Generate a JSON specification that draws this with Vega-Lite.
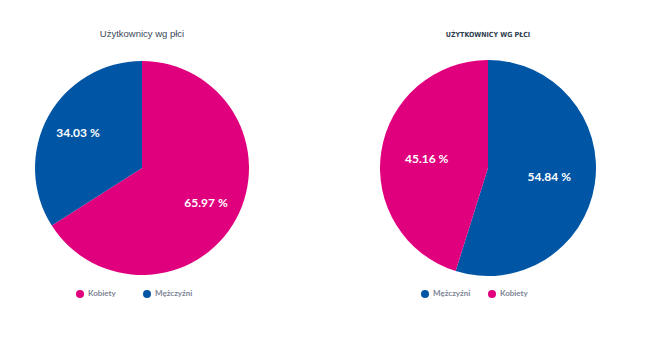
{
  "$schema": "https://vega.github.io/schema/vega-lite/v6.json",
  "padding": {"left": 22, "top": 28, "right": 0, "bottom": 0},
  "background": "white",
  "datasets": {
    "left": [
      {"plec": "Kobiety", "value": 65.97, "label": "65.97 %"},
      {"plec": "Mężczyźni", "value": 34.03, "label": "34.03 %"}
    ],
    "right": [
      {"plec": "Mężczyźni", "value": 54.84, "label": "54.84 %"},
      {"plec": "Kobiety", "value": 45.16, "label": "45.16 %"}
    ]
  },
  "spacing": 106,
  "hconcat": [
    {
      "width": 240,
      "height": 220,
      "data": {"name": "left"},
      "title": {"text": "Użytkownicy wg płci", "fontSize": 9.5, "font": "Liberation Sans", "fontWeight": "normal", "color": "#3c4858", "offset": 20},
      "encoding": {
        "theta": {"field": "value", "type": "quantitative", "stack": true},
        "order": {"field": "value", "sort": "descending"},
        "color": {
          "field": "plec", "type": "nominal",
          "scale": {"domain": ["Kobiety", "Mężczyźni"], "range": ["#E0007E", "#0055A4"]},
          "legend": {"orient": "none", "legendX": 54, "legendY": 232, "direction": "horizontal", "title": null}
        }
      },
      "layer": [
        {"mark": {"type": "arc", "outerRadius": 107}},
        {
          "mark": {"type": "text", "radius": 73, "fontWeight": "bold", "fontSize": 12, "font": "Lato"},
          "encoding": {"text": {"field": "label"}, "color": {"value": "white"}}
        }
      ]
    },
    {
      "width": 240,
      "height": 220,
      "data": {"name": "right"},
      "title": {"text": "UŻYTKOWNICY WG PŁCI", "fontSize": 7, "font": "DejaVu Sans Condensed, DejaVu Sans, sans-serif", "fontWeight": "bold", "color": "#2f3d50", "offset": 20},
      "encoding": {
        "theta": {"field": "value", "type": "quantitative", "stack": true},
        "order": {"field": "value", "sort": "descending"},
        "color": {
          "field": "plec", "type": "nominal",
          "scale": {"domain": ["Mężczyźni", "Kobiety"], "range": ["#0055A4", "#E0007E"]},
          "legend": {"orient": "none", "legendX": 53, "legendY": 232, "direction": "horizontal", "title": null}
        }
      },
      "layer": [
        {"mark": {"type": "arc", "outerRadius": 108}},
        {
          "mark": {"type": "text", "radius": 62, "fontWeight": "bold", "fontSize": 12, "font": "Lato"},
          "encoding": {"text": {"field": "label"}, "color": {"value": "white"}}
        }
      ]
    }
  ],
  "resolve": {"scale": {"color": "independent", "theta": "independent"}, "legend": {"color": "independent"}},
  "config": {
    "view": {"stroke": null},
    "legend": {
      "symbolType": "circle",
      "symbolSize": 64,
      "symbolStrokeWidth": 0,
      "labelFont": "Lato",
      "labelFontSize": 8,
      "labelFontWeight": "bold",
      "labelColor": "#7d8496",
      "columns": 2,
      "gridAlign": "all",
      "columnPadding": 17
    }
  }
}
